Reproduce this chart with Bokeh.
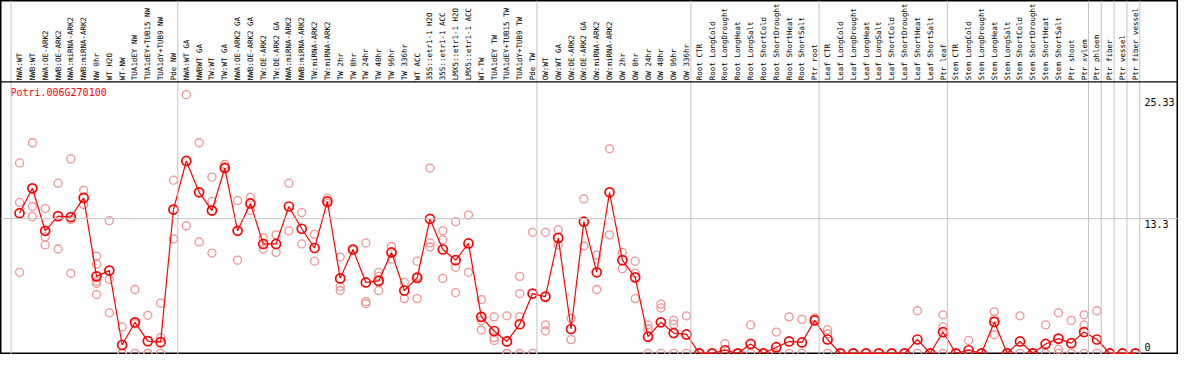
import math
from bokeh.plotting import figure
from bokeh.models import Range1d, Span
from bokeh.core.properties import value
from bokeh.embed import file_html
from bokeh.resources import INLINE

gene = "Potri.006G270100"

labels = [
    "NWA:WT", "NWB:WT", "NWA:OE-ARK2", "NWB:OE-ARK2", "NWA:miRNA-ARK2", "NWB:miRNA-ARK2",
    "NW 0hr", "WT H2O", "WT-NW", "TUA1dEY NW", "TUA1dEY+TUB15 NW", "TUA1dY+TUB9 NW", "Pde NW",
    "NWA:WT GA", "NWBWT GA", "TW:WT", "TW:WT GA", "NWA:OE-ARK2 GA", "NWB:OE-ARK2 GA",
    "TW:OE-ARK2", "TW:OE-ARK2 GA", "NWA:miRNA-ARK2", "NWB:miRNA-ARK2", "TW:miRNA-ARK2",
    "TW:miRNA-ARK2", "TW 2hr", "TW 8hr", "TW 24hr", "TW 48hr", "TW 96hr", "TW 336hr", "WT ACC",
    "35S::etr1-1 H2O", "35S::etr1-1 ACC", "LMX5::etr1-1 H2O", "LMX5::etr1-1 ACC", "WT-TW",
    "TUA1dEY TW", "TUA1dEY+TUB15 TW", "TUA1dY+TUB9 TW", "Pde TW",
    "OW:WT", "OW:WT GA", "OW:OE-ARK2", "OW:OE-ARK2 GA", "OW:miRNA-ARK2", "OW:miRNA-ARK2",
    "OW 2hr", "OW 8hr", "OW 24hr", "OW 48hr", "OW 96hr", "OW 336hr",
    "Root CTR", "Root LongCold", "Root LongDrought", "Root LongHeat", "Root LongSalt",
    "Root ShortCold", "Root ShortDrought", "Root ShortHeat", "Root ShortSalt", "Ptr root",
    "Leaf CTR", "Leaf LongCold", "Leaf LongDrought", "Leaf LongHeat", "Leaf LongSalt",
    "Leaf ShortCold", "Leaf ShortDrought", "Leaf ShortHeat", "Leaf ShortSalt", "Ptr leaf",
    "Stem CTR", "Stem LongCold", "Stem LongDrought", "Stem LongHeat", "Stem LongSalt",
    "Stem ShortCold", "Stem ShortDrought", "Stem ShortHeat", "Stem ShortSalt", "Ptr shoot",
    "Ptr xylem", "Ptr phloem", "Ptr fiber", "Ptr vessel", "Ptr fiber vessel",
]

group_sizes = [13, 28, 12, 10, 10, 11, 1, 1, 1, 1]

means = [
    13.84, 16.3, 12.1, 13.55, 13.46, 15.35, 7.6, 8.17, 0.82, 3.06, 1.2, 1.1, 14.2,
    19.0, 15.9, 14.1, 18.3, 12.1, 14.8, 10.8, 10.8, 14.5, 12.3, 10.4, 15.0, 7.4, 10.25,
    7.0, 7.15, 9.96, 6.2, 7.45, 13.27, 10.25, 9.2, 10.85, 3.6, 2.2, 1.17, 2.87, 5.9,
    5.6, 11.4, 2.4, 13.0, 8.0, 15.9, 9.2, 7.5, 1.64, 3.06, 2.0, 1.86,
    0, 0, 0.3, 0, 0.92, 0, 0.6, 1.17, 1.07, 3.25,
    1.36, 0, 0, 0, 0, 0, 0, 1.36, 0, 2.1,
    0, 0.3, 0, 3.1, 0, 1.17, 0, 0.92, 1.45, 1.0, 2.1,
    1.36, 0, 0, 0,
]

replicates = [
    [18.8, 14.9, 8.0], [20.8, 14.5, 13.5], [14.3, 11.5, 10.7], [16.8, 10.3],
    [19.2, 13.2, 7.9], [16.1, 14.7], [9.6, 8.8, 7.1, 6.9, 5.8], [13.1, 7.3, 4.0],
    [2.6, 0, 0], [6.3, 2.9, 0], [3.75, 0, 0], [4.95, 1.55, 0], [17.1, 11.3],
    [25.55, 12.6], [20.8, 11.0], [17.4, 15.0, 9.9], [18.65, 18.4], [15.1, 9.2],
    [15.4, 14.1], [11.4, 10.3], [11.7, 9.96], [16.8, 12.1], [13.9, 10.8], [11.75, 9.1],
    [15.3, 14.8], [9.5, 6.6, 6.2], [10.3, 10.2], [10.9, 5.1, 4.9], [8.0, 7.6, 6.2],
    [10.55, 9.3], [7.0, 5.4], [9.1, 7.6, 5.4], [18.3, 10.9, 10.5], [12.1, 11.2, 7.4],
    [13.0, 8.5, 6.0], [13.65, 8.0], [5.3, 3.25, 2.3], [3.6, 1.55, 1.27], [3.7, 0, 0],
    [7.6, 5.9, 3.6, 0], [11.95, 0],
    [11.95, 2.8, 2.2], [12.2, 10.7], [3.45, 1.35], [15.25, 10.6], [9.7, 6.3],
    [20.2, 11.7], [9.96, 8.36], [9.1, 7.9, 5.4], [2.8, 2.4, 0], [4.86, 4.48, 0],
    [3.25, 2.87, 0], [3.7, 0],
    [0, 0], [0, 0], [0.95, 0], [0, 0], [2.8, 0], [0, 0], [2.1, 0], [3.6, 0], [3.35, 0],
    [3.5, 3.35],
    [2.33, 1.93, 0], [0], [0], [0], [0], [0], [0], [4.2, 0], [0], [3.8, 2.6, 0],
    [0], [1.27, 0], [0], [4.1, 3.4, 1.83], [0], [3.7, 0], [0], [2.8, 0], [4.0, 0.4, 0],
    [3.25, 0], [3.8, 2.8, 0],
    [4.2, 0], [0], [0], [0],
]

ytick_values = [0, 13.3, 25.33]
ytick_labels = ["0", "13.3", "25.33"]

# ---------------------------------------------------------------- figure
W, H = 1178, 354
p = figure(width=W, height=H, x_range=Range1d(-1.485, 90.36), y_range=Range1d(-0.12, 34.85),
           output_backend="svg", toolbar_location=None, min_border=0,
           x_axis_location=None, y_axis_location=None)
p.grid.visible = False
p.outline_line_color = "black"
p.outline_line_width = 2
p.background_fill_color = "white"
p.border_fill_color = "white"

MONO = value("DejaVu Sans Mono")
GRID = "#c4c4c4"

xs = list(range(len(labels)))
header_y = 26.81
label_y = 26.98

# group separators
k = 0
bounds = [0]
for g in group_sizes:
    k += g
    bounds.append(k)
for b in bounds:
    p.add_layout(Span(location=b - 0.66, dimension="height", line_color=GRID, line_width=1))

# horizontal reference line at middle tick
p.add_layout(Span(location=ytick_values[1], dimension="width", line_color=GRID, line_width=1))
# header separator
p.add_layout(Span(location=header_y, dimension="width", line_color="black", line_width=1.3))

# replicates
rep_x = [i for i, reps in enumerate(replicates) for _ in reps]
rep_y = [v for reps in replicates for v in reps]
p.scatter(rep_x, rep_y, marker="circle", size=8, fill_color=None,
          line_color="#f09494", line_width=1.3)

# means
p.line(xs, means, line_color="#ff0000", line_width=1.2)
p.scatter(xs, means, marker="circle", size=9, fill_color=None,
          line_color="#ff0000", line_width=1.7)

# header labels (vertical, reading upward)
p.text(x=xs, y=[label_y] * len(xs), text=labels, angle=math.pi / 2,
       text_align="left", text_baseline="middle", text_font=MONO,
       text_font_size="7.5px", text_color="black")

# gene name
p.text(x=[-0.715], y=[25.78], text=[gene], text_align="left", text_baseline="middle",
       text_font=MONO, text_font_size="10px", text_color="#ff0000")

# y tick labels on the right
lab_x = 87.7
nz = [(v, t) for v, t in zip(ytick_values, ytick_labels) if v != 0]
z = [(v, t) for v, t in zip(ytick_values, ytick_labels) if v == 0]
p.text(x=[lab_x] * len(nz), y=[v for v, _ in nz], text=[t for _, t in nz],
       text_align="left", text_baseline="top", y_offset=1,
       text_font=MONO, text_font_size="10px", text_color="black")
p.text(x=[lab_x] * len(z), y=[v for v, _ in z], text=[t for _, t in z],
       text_align="left", text_baseline="bottom", y_offset=-2,
       text_font=MONO, text_font_size="10px", text_color="black")

open("out.html", "w").write(file_html(p, INLINE))
